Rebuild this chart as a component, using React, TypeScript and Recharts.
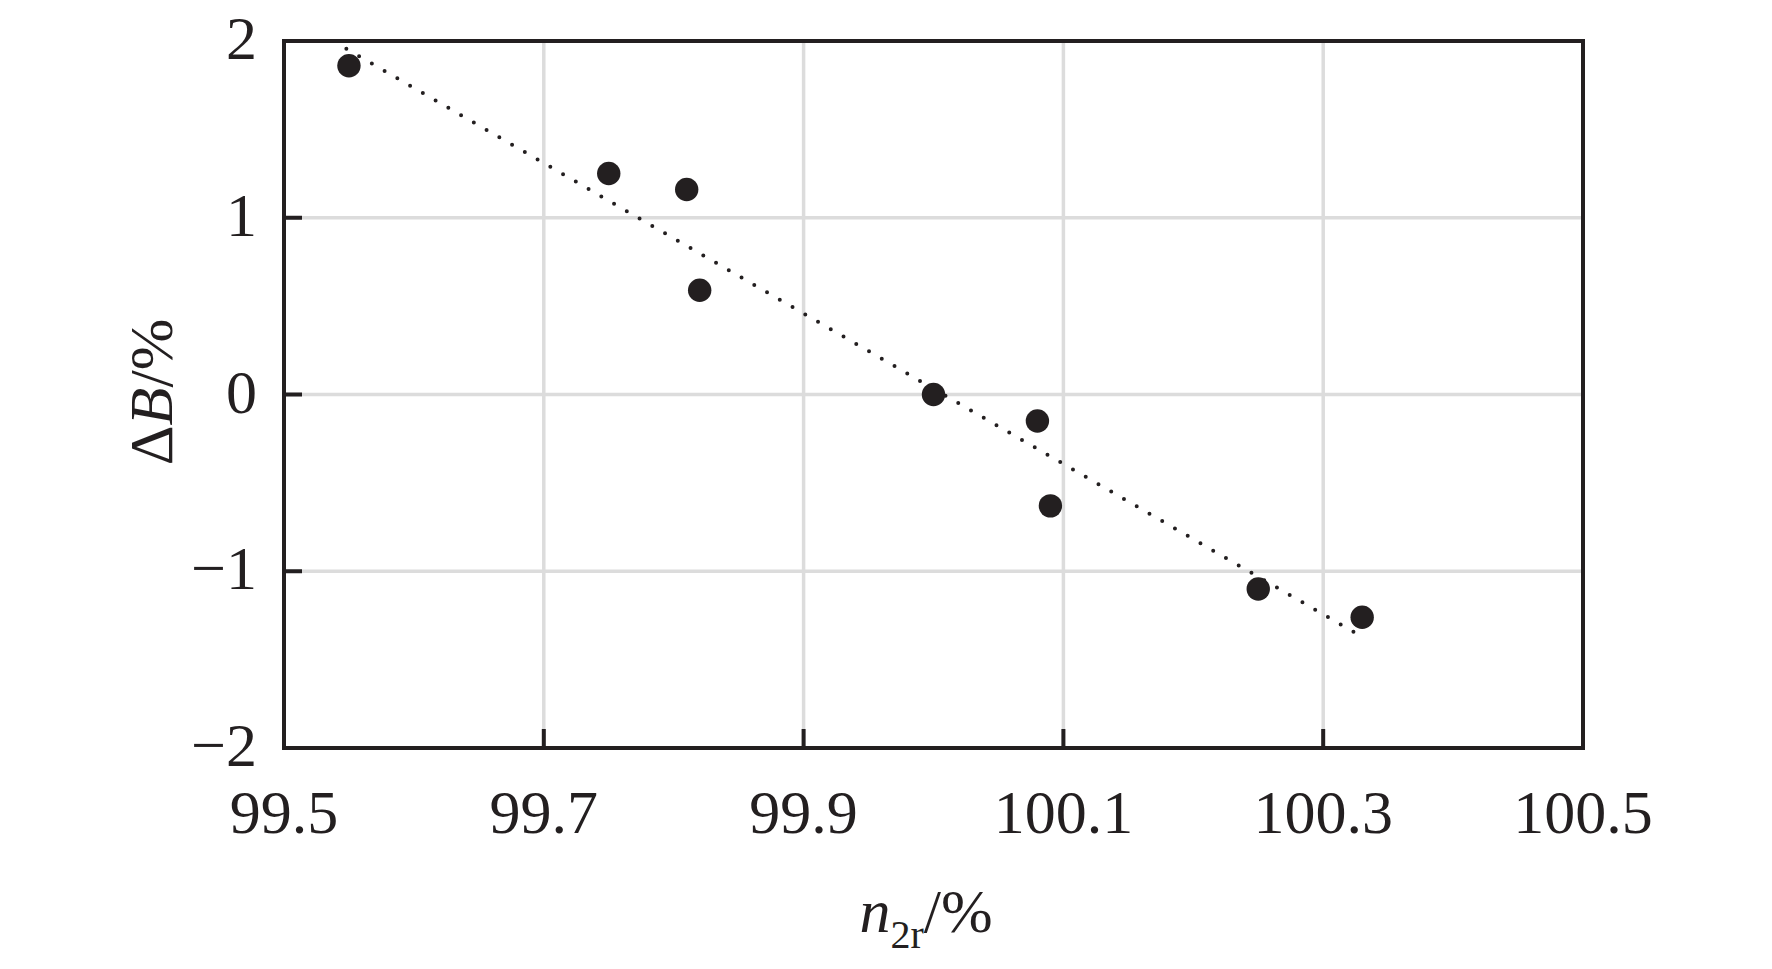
import React from 'react';
import { ScatterChart, Scatter, XAxis, YAxis, CartesianGrid, ReferenceArea } from 'recharts';

const speedPct = [99.55, 99.75, 99.81, 99.82, 100.0, 100.08, 100.09, 100.25, 100.33];
const deltaB = [1.86, 1.25, 1.16, 0.59, 0.0, -0.15, -0.63, -1.1, -1.26];
const trendX = [99.548, 100.325];
const trendY = [1.956, -1.35];
const xTicks = [99.5, 99.7, 99.9, 100.1, 100.3, 100.5];
const yTicks = [-2, -1, 0, 1, 2];
const xTickLabels = ['99.5', '99.7', '99.9', '100.1', '100.3', '100.5'];
const yTickLabels = ['\u22122', '\u22121', '0', '1', '2'];

const points = speedPct.map((x, i) => ({ x, y: deltaB[i] }));
const trend = trendX.map((x, i) => ({ x, y: trendY[i] }));

const INK = '#231f20';
const FONT = '"Liberation Serif", "Times New Roman", serif';
const FS = 62;

const XTick = (props: any) => {
  const { x, y, payload } = props;
  const idx = xTicks.indexOf(payload.value);
  return (
    <g>
      <line x1={x} y1={y} x2={x} y2={y - 19} stroke={INK} strokeWidth={4} />
      <text x={x} y={y + 85} textAnchor="middle" fontFamily={FONT} fontSize={FS} fill={INK}>
        {idx >= 0 ? xTickLabels[idx] : payload.value}
      </text>
    </g>
  );
};

const YTick = (props: any) => {
  const { x, y, payload } = props;
  const idx = yTicks.indexOf(payload.value);
  return (
    <g>
      <line x1={x} y1={y} x2={x + 18} y2={y} stroke={INK} strokeWidth={4} />
      <text x={x - 27} y={y + 18} textAnchor="end" fontFamily={FONT} fontSize={FS} fill={INK}>
        {idx >= 0 ? yTickLabels[idx] : payload.value}
      </text>
    </g>
  );
};

const Dot = (props: any) => {
  const { cx, cy } = props;
  if (cx == null || cy == null) return null;
  return <circle cx={cx} cy={cy} r={11.7} fill={INK} />;
};

const NoShape = () => null;

export default function App() {
  return (
    <div style={{ position: 'absolute', left: 0, top: 0, width: 1772, height: 969, background: '#fff' }}>
      <ScatterChart
        width={1772}
        height={969}
        margin={{ top: 41, right: 189, bottom: 121, left: 84 }}
      >
        <CartesianGrid stroke="#dcdcdc" strokeWidth={3.5} horizontalValues={yTicks} verticalValues={xTicks} />
        <XAxis
          type="number"
          dataKey="x"
          domain={[99.5, 100.5]}
          ticks={xTicks}
          allowDataOverflow
          height={100}
          axisLine={false}
          tickLine={false}
          tickSize={0}
          tickMargin={0}
          interval={0}
          tick={XTick}
        />
        <YAxis
          type="number"
          dataKey="y"
          domain={[-2, 2]}
          ticks={yTicks}
          allowDataOverflow
          width={200}
          axisLine={false}
          tickLine={false}
          tickSize={0}
          tickMargin={0}
          interval={0}
          tick={YTick}
        />
        <ReferenceArea x1={99.5} x2={100.5} y1={-2} y2={2} fill="none" fillOpacity={0} stroke={INK} strokeWidth={4} />
        <Scatter
          data={trend}
          isAnimationActive={false}
          shape={NoShape}
          line={{ stroke: INK, strokeWidth: 4, strokeDasharray: '0 14.73', strokeLinecap: 'round' }}
          lineType="joint"
        />
        <Scatter data={points} isAnimationActive={false} shape={Dot} />
        <text x={172} y={392} transform="rotate(-90 172 392)" textAnchor="middle" fontFamily={FONT} fontSize={FS} fill={INK}>
          <tspan>{'\u0394'}</tspan>
          <tspan fontStyle="italic">B</tspan>
          <tspan>/%</tspan>
        </text>
        <text x={926} y={932} textAnchor="middle" fontFamily={FONT} fontSize={FS} fill={INK}>
          <tspan fontStyle="italic">n</tspan>
          <tspan fontSize={40} dy={16}>2r</tspan>
          <tspan dy={-16}>/%</tspan>
        </text>
      </ScatterChart>
    </div>
  );
}
